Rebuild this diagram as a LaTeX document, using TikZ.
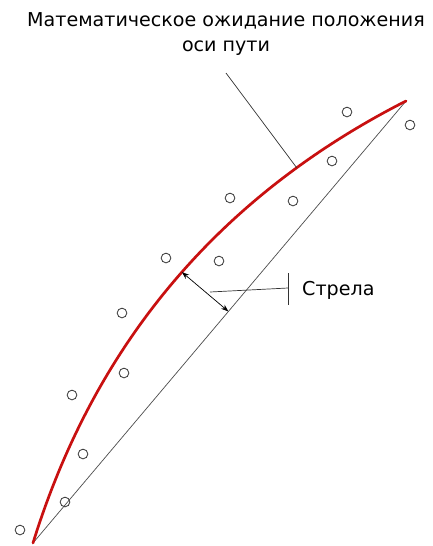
\documentclass[tikz,border=0pt]{standalone}
\usepackage{fontspec}
\setmainfont{DejaVu Sans}
\usepackage{tikz}
\usetikzlibrary{arrows.meta,positioning,calc}
\definecolor{axisred}{RGB}{200,16,16}

\begin{document}
\begin{tikzpicture}[x=0.03cm, y=-0.03cm,
	arr/.style={{Stealth[length=2.2mm,width=1.6mm]}-{Stealth[length=2.2mm,width=1.6mm]}, line width=0.6pt},
	obs/.style={draw=black!75, circle, line width=0.75pt, inner sep=0pt, minimum size=2.9mm},
	lbl/.style={font=\fontsize{16.3}{22}\selectfont, inner sep=0pt}]
	\useasboundingbox (0,0) rectangle (433,546);
	% ends of the track
	\coordinate (S) at (33,543);
	\coordinate (E) at (406,101);
	\draw[black!70, line width=0.6pt] (S) -- (E);
	\draw[axisred, line width=2.3pt, line cap=round] (S) .. controls (95,343) and (219.5,196) .. (E)
		coordinate[pos=0.524] (A) coordinate[pos=0.79] (C);
	% measured points
	\foreach \x/\y [count=\i] in {20/530,65/502,83/454,72/395,124/373,122/313,166/258,219/261,230/198,293/201,332/161,347/112,410/125}
		\node[obs] (p\i) at (\x,\y) {};
	% sagitta
	\coordinate (B) at ($(S)!(A)!(E)$);
	\draw[arr] (A) -- (B);
	\coordinate (L) at (210,292);
	\coordinate (T) at (288,288);
	\draw[black!80, line width=0.6pt] (L) -- (T);
	\draw[black!80, line width=0.6pt] ($(T)+(0,-15)$) coordinate (T1) -- ($(T)+(0,17)$) coordinate (T2);
	\node[lbl, anchor=west] (sag) at (302,290) {Стрела};
	% title
	\node[lbl, align=center] (title) at (226,34) {Математическое ожидание положения\\оси пути};
	\coordinate (D) at (226,73);
	\draw[black!80, line width=0.6pt] (D) -- (C);
\end{tikzpicture}
\end{document}
